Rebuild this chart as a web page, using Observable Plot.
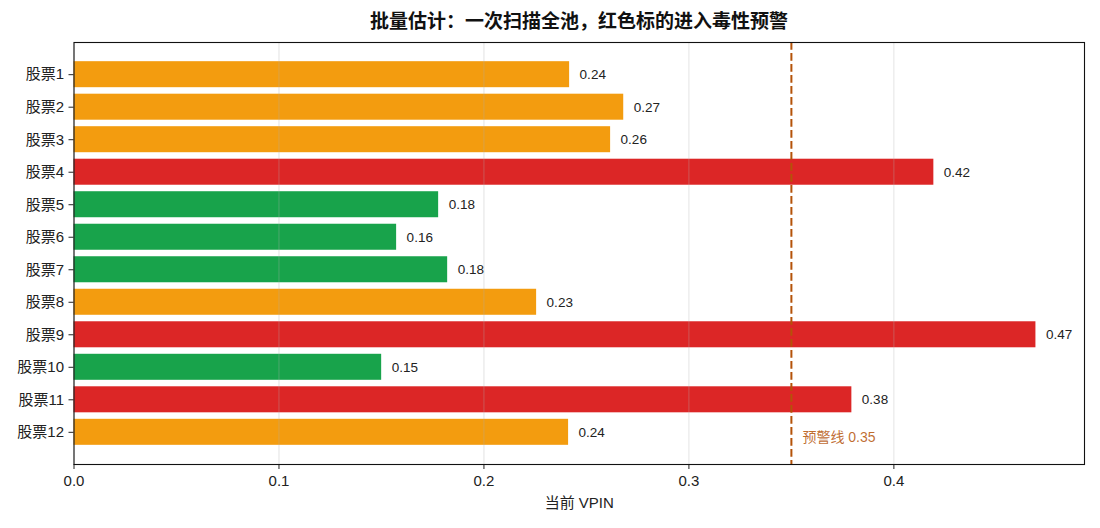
<!DOCTYPE html>
<html>
<head>
<meta charset="utf-8">
<script src="https://cdn.jsdelivr.net/npm/d3@7"></script>
<script src="https://cdn.jsdelivr.net/npm/@observablehq/plot@0.6"></script>
<style>
  html, body { margin: 0; padding: 0; background: #fff; }
  body { width: 1100px; height: 528px; overflow: hidden; font-family: "Liberation Sans", "Noto Sans CJK SC", sans-serif; }
  #title {
    box-sizing: border-box; height: 36px; padding: 12px 15.5px 0 73.5px;
    font-size: 19px; line-height: 20px; font-weight: bold; text-align: center; color: #111;
    font-family: "Liberation Sans", "Noto Sans CJK SC", sans-serif;
  }
  #chart svg { display: block; }
</style>
</head>
<body>
<div id="title">批量估计：一次扫描全池，红色标的进入毒性预警</div>
<div id="chart"></div>
<script>
// Stocks in the pool and their current VPIN estimates
const names = ["股票1", "股票2", "股票3", "股票4", "股票5", "股票6", "股票7", "股票8", "股票9", "股票10", "股票11", "股票12"];
const vpin = [0.2418, 0.2682, 0.2618, 0.4195, 0.1779, 0.1574, 0.1823, 0.2257, 0.4693, 0.1501, 0.3795, 0.2413];
// Risk level per stock: low / watch / alert
const levels = ["watch", "watch", "watch", "alert", "low", "low", "low", "watch", "alert", "low", "alert", "watch"];
const levelColors = { low: "#18a34b", watch: "#f39c0f", alert: "#dc2626" };
const xTicks = [0, 0.1, 0.2, 0.3, 0.4];
const threshold = 0.35;
const thresholdLabel = "预警线 0.35";

const rows = names.map((name, i) => ({ name, vpin: vpin[i], color: levelColors[levels[i]] }));

const font = "'Liberation Sans', 'Noto Sans CJK SC', sans-serif";

const chart = Plot.plot({
  width: 1100,
  height: 492,
  marginTop: 6,
  marginBottom: 64,
  marginLeft: 73.5,
  marginRight: 16,
  style: { fontFamily: font, fontSize: "15px", color: "#222", background: "#fff" },
  x: { domain: [0, 0.493] },
  y: { domain: names, paddingInner: 0.2, paddingOuter: 0.59, round: false },
  color: { type: "identity" },
  marks: [
    Plot.barX(rows, { x: "vpin", y: "name", fill: "color" }),
    Plot.gridX(xTicks, { stroke: "#b0b0b0", strokeOpacity: 0.35, strokeWidth: 1 }),
    Plot.ruleX([threshold], { stroke: "#b45309", strokeWidth: 2, strokeDasharray: "7.7,3.3" }),
    Plot.text(rows, {
      x: "vpin", y: "name", text: d => d3.format(".2f")(d.vpin),
      textAnchor: "start", dx: 10, fontSize: 13.5, fill: "#222"
    }),
    Plot.text([{ x: threshold, y: names[names.length - 1] }], {
      x: "x", y: "y", text: () => thresholdLabel,
      textAnchor: "start", dx: 11, dy: 5, fontSize: 14, fill: "#b45309", fillOpacity: 0.85
    }),
    Plot.axisY({ tickSize: 5, tickPadding: 5, label: null, fontSize: 15 }),
    Plot.axisX({
      ticks: xTicks, tickFormat: d3.format(".1f"), tickSize: 5, tickPadding: 6, fontSize: 15,
      label: "当前 VPIN", labelAnchor: "center", labelArrow: "none", labelOffset: 43
    }),
    Plot.frame({ stroke: "#111", strokeWidth: 1.1 })
  ]
});

document.getElementById("chart").appendChild(chart);
</script>
</body>
</html>
